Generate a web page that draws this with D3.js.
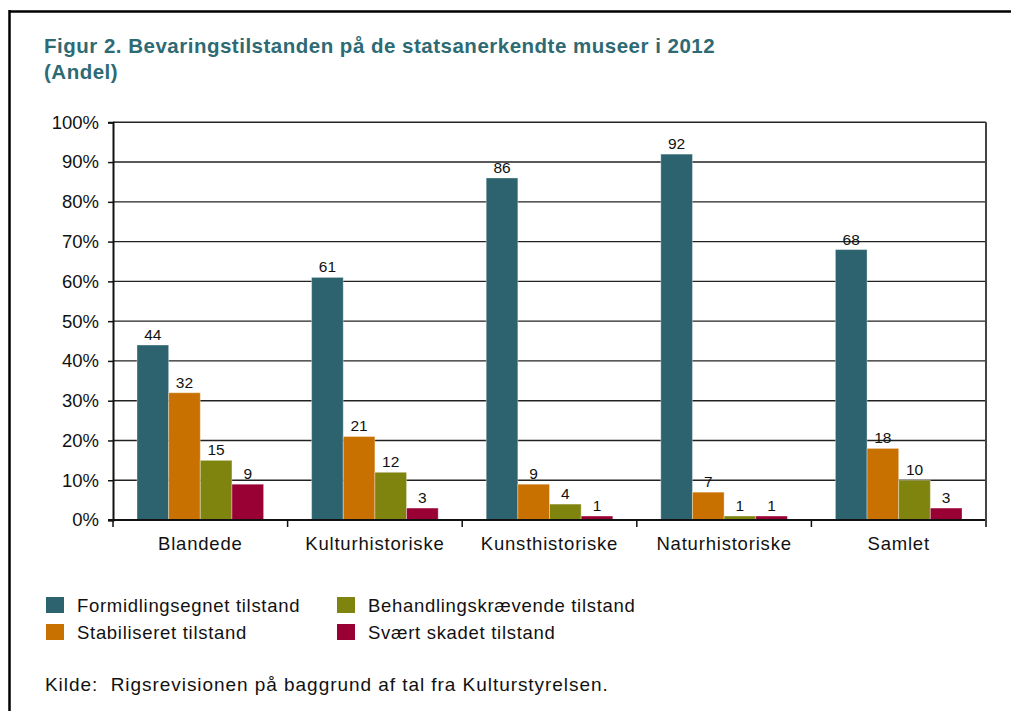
<!DOCTYPE html>
<html>
<head>
<meta charset="utf-8">
<script src="https://cdn.jsdelivr.net/npm/d3@7"></script>
<style>
  body { margin: 0; background: #fff; }
  svg { font-family: "Liberation Sans", Arial, sans-serif; }
</style>
</head>
<body>
<svg id="chart" width="1011" height="711"></svg>
<script>
// data
const categories = ["Blandede", "Kulturhistoriske", "Kunsthistoriske", "Naturhistoriske", "Samlet"];
const seriesNames = ["Formidlingsegnet tilstand", "Stabiliseret tilstand", "Behandlingskrævende tilstand", "Svært skadet tilstand"];
const formidling = [44, 61, 86, 92, 68];
const stabiliseret = [32, 21, 9, 7, 18];
const behandling = [15, 12, 4, 1, 10];
const skadet = [9, 3, 1, 1, 3];
const yTicks = [0, 10, 20, 30, 40, 50, 60, 70, 80, 90, 100];
const colors = ["#2c636e", "#c87100", "#7f840e", "#990033"];

const series = [formidling, stabiliseret, behandling, skadet];

const svg = d3.select("#chart");

// frame
svg.append("line").attr("x1", 9.5).attr("x2", 1011).attr("y1", 11.5).attr("y2", 11.5)
    .attr("stroke", "#000").attr("stroke-width", 2.5);
svg.append("line").attr("x1", 9.5).attr("x2", 9.5).attr("y1", 10).attr("y2", 711)
    .attr("stroke", "#000").attr("stroke-width", 2.5);

// title
const title = svg.append("text").attr("fill", "#2e6a74").attr("font-weight", "bold")
    .attr("font-size", 20.5).attr("letter-spacing", 0.5);
title.append("tspan").attr("x", 44).attr("y", 53).text("Figur 2. Bevaringstilstanden på de statsanerkendte museer i 2012");
title.append("tspan").attr("x", 44).attr("y", 79).text("(Andel)");

const plotLeft = 113, plotRight = 986, plotTop = 122.3, plotBottom = 520;

let y = d3.scaleLinear().domain([0, 100]).range([plotBottom, plotTop]);
let x0 = d3.scaleBand().domain(categories).range([plotLeft, plotRight]).padding(0);
let x1 = d3.scaleBand().domain(d3.range(series.length)).range([24, x0.bandwidth() - 24]).padding(0);

// gridlines
svg.append("g").selectAll("line").data(yTicks.filter(d => d > 0)).join("line")
    .attr("x1", plotLeft).attr("x2", plotRight)
    .attr("y1", d => y(d)).attr("y2", d => y(d))
    .attr("stroke", "#222").attr("stroke-width", 1.4);

// bars
categories.forEach(function (cat, i) {
    const g = svg.append("g").attr("transform", "translate(" + x0(cat) + ",0)");
    series.forEach(function (s, j) {
        g.append("rect")
            .attr("x", x1(j)).attr("width", x1.bandwidth())
            .attr("y", y(s[i])).attr("height", y(0) - y(s[i]))
            .attr("fill", colors[j])
            .attr("stroke", "rgba(255,255,255,0.35)").attr("stroke-width", 1);
        g.append("text")
            .attr("x", x1(j) + x1.bandwidth() / 2).attr("y", y(s[i]) - 5)
            .attr("text-anchor", "middle").attr("font-size", 15.5).attr("fill", "#111")
            .text(s[i]);
    });
});

// y axis
const yAxis = svg.append("g").attr("transform", "translate(" + plotLeft + ",0)")
    .call(d3.axisLeft(y).tickValues(yTicks).tickSize(5).tickPadding(9).tickFormat(d => d + "%"));
yAxis.select(".domain").attr("stroke", "#111").attr("stroke-width", 2);
yAxis.selectAll(".tick line").attr("stroke", "#111").attr("stroke-width", 1.5);
yAxis.selectAll(".tick text").attr("font-size", 18.5).attr("fill", "#111")
    .attr("font-family", "Liberation Sans, Arial, sans-serif");

// x axis
svg.append("line").attr("x1", plotLeft - 5).attr("x2", plotRight).attr("y1", plotBottom).attr("y2", plotBottom)
    .attr("stroke", "#111").attr("stroke-width", 2.2);
const xTickPos = categories.map(c => x0(c));
svg.append("g").selectAll("line").data(xTickPos).join("line")
    .attr("x1", d => d).attr("x2", d => d).attr("y1", plotBottom).attr("y2", plotBottom + 7)
    .attr("stroke", "#111").attr("stroke-width", 1.5);
// right border of plot
svg.append("line").attr("x1", plotRight).attr("x2", plotRight).attr("y1", plotTop).attr("y2", plotBottom + 7)
    .attr("stroke", "#444").attr("stroke-width", 2);

svg.append("g").selectAll("text").data(categories).join("text")
    .attr("x", d => x0(d) + x0.bandwidth() / 2).attr("y", 550)
    .attr("text-anchor", "middle").attr("font-size", 18.5).attr("letter-spacing", 0.8)
    .attr("fill", "#111")
    .text(d => d);

// legend
const legendPos = [[46, 605], [46, 632], [337, 605], [337, 632]];
seriesNames.forEach(function (name, j) {
    const p = legendPos[j];
    svg.append("rect").attr("x", p[0]).attr("y", p[1] - 8).attr("width", 18).attr("height", 16)
        .attr("fill", colors[j]);
    svg.append("text").attr("x", p[0] + 31).attr("y", p[1] + 7)
        .attr("font-size", 18.5).attr("letter-spacing", 0.7).attr("fill", "#111").text(name);
});

svg.append("text").attr("x", 45).attr("y", 691).attr("font-size", 19).attr("letter-spacing", 0.95)
    .attr("fill", "#111")
    .attr("xml:space", "preserve")
    .text("Kilde:  Rigsrevisionen på baggrund af tal fra Kulturstyrelsen.");
</script>
</body>
</html>
